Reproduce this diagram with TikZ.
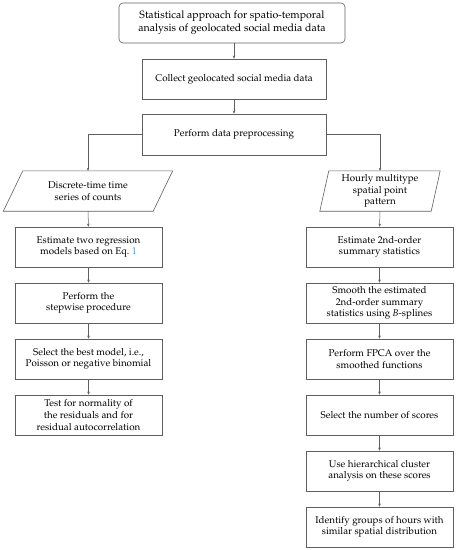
\documentclass[tikz,border=0pt]{standalone}
\usepackage[T1]{fontenc}
\usepackage{mathpazo}
\usetikzlibrary{arrows.meta}
\definecolor{linkblue}{RGB}{60,150,205}
\definecolor{edge}{RGB}{95,95,95}
\begin{document}
\begin{tikzpicture}[x=1pt,y=-1pt,
  txt/.style={align=center, inner sep=1pt, font=\fontsize{9.8}{11.6}\selectfont},
  box/.style={txt, draw=edge, line width=0.6pt, minimum width=147pt, minimum height=40pt},
  parabox/.style={txt, minimum height=40pt},
  arr/.style={draw=edge, line width=0.5pt, -{Stealth[length=3pt,width=2.6pt]}}]
\useasboundingbox (0,0) rectangle (457,550);
% top
\node[box, rounded corners=4pt, minimum width=226pt, font=\fontsize{10.6}{13}\selectfont] (title) at (232,23)
  {Statistical approach for spatio-temporal\\analysis of geolocated social media data};
\node[box, minimum width=184pt] (collect) at (234,79) {Collect geolocated social media data};
\node[box, minimum width=184pt, minimum height=41pt] (prep) at (234,134.5) {Perform data preprocessing};
% left column
\node[parabox, minimum width=143pt] (lpar) at (88,191) {Discrete-time time\\series of counts};
\draw[edge, line width=0.6pt] ([xshift=6.5pt]lpar.north west) -- ([xshift=13pt]lpar.north east)
  -- ([xshift=-6.5pt]lpar.south east) -- ([xshift=-13pt]lpar.south west) -- cycle;
\node[box] (l1) at (88.5,247) {Estimate two regression\\models based on Eq.~\textcolor{linkblue}{1}};
\node[box] (l2) at (88.5,303) {Perform the\\stepwise procedure};
\node[box] (l3) at (88.5,359) {Select the best model, i.e.,\\Poisson or negative binomial};
\node[box] (l4) at (88.5,415) {Test for normality of\\the residuals and for\\residual autocorrelation};
% right column
\node[parabox, minimum width=100pt] (rpar) at (380,191) {Hourly multitype\\spatial point\\pattern};
\draw[edge, line width=0.6pt] ([xshift=-1pt]rpar.north west) -- ([xshift=10pt]rpar.north east)
  -- ([xshift=1pt]rpar.south east) -- ([xshift=-10pt]rpar.south west) -- cycle;
\node[box] (r1) at (379.5,247) {Estimate 2nd-order\\summary statistics};
\node[box] (r2) at (379.5,303) {Smooth the estimated\\2nd-order summary\\statistics using \textit{B}-splines};
\node[box] (r3) at (379.5,359) {Perform FPCA over the\\smoothed functions};
\node[box] (r4) at (379.5,415) {Select the number of scores};
\node[box] (r5) at (379.5,471) {Use hierarchical cluster\\analysis on these scores};
\node[box] (r6) at (379.5,527) {Identify groups of hours with\\similar spatial distribution};
% connectors
\draw[arr] (collect.north |- title.south) -- (collect);
\draw[arr] (collect) -- (prep);
\draw[arr] (prep.west) -| (lpar.north);
\draw[arr] (prep.east) -| (rpar.north);
\draw[arr] (lpar) -- (l1);
\draw[arr] (l1) -- (l2);
\draw[arr] (l2) -- (l3);
\draw[arr] (l3) -- (l4);
\draw[arr] (rpar) -- (r1);
\draw[arr] (r1) -- (r2);
\draw[arr] (r2) -- (r3);
\draw[arr] (r3) -- (r4);
\draw[arr] (r4) -- (r5);
\draw[arr] (r5) -- (r6);
\end{tikzpicture}
\end{document}
